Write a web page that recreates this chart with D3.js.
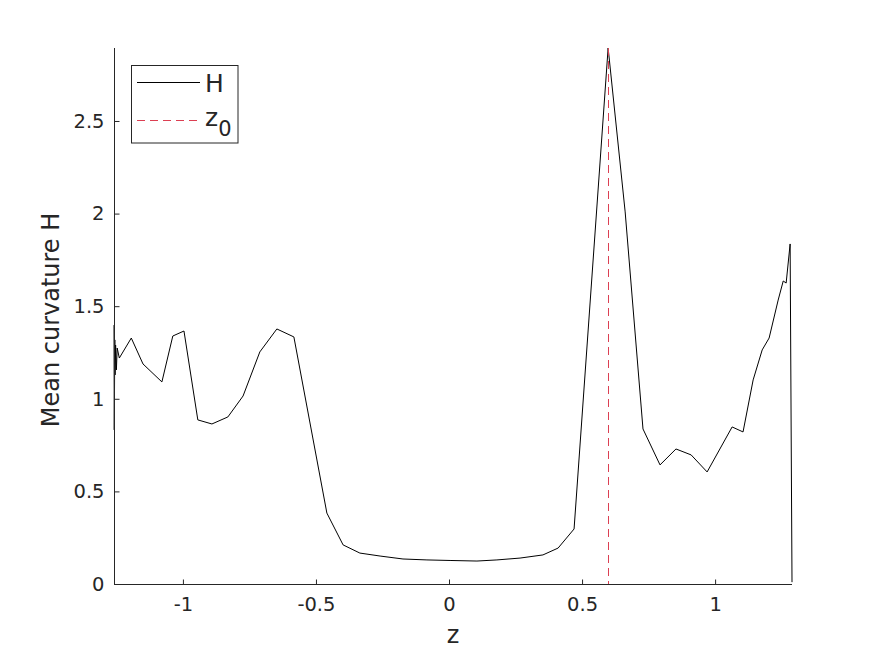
<!DOCTYPE html>
<html>
<head>
<meta charset="utf-8">
<script src="https://cdn.jsdelivr.net/npm/d3@7"></script>
<style>
  html, body { margin: 0; padding: 0; background: #fff; }
  svg { display: block; }
  text { font-family: "DejaVu Sans", sans-serif; fill: #262626; }
</style>
</head>
<body>
<svg id="chart" width="875" height="656"></svg>
<script>
// ---- data ----
const zValues = [
  -1.259, -1.258, -1.256, -1.255, -1.253, -1.250, -1.247, -1.239,
  -1.194, -1.150, -1.079, -1.038, -0.996, -0.944, -0.891, -0.831,
  -0.774, -0.711, -0.647, -0.583, -0.459, -0.398, -0.335, -0.259,
  -0.173, -0.083, 0.004, 0.105, 0.180, 0.267, 0.353, 0.410,
  0.470, 0.598, 0.662, 0.729, 0.793, 0.853, 0.910, 0.970,
  1.064, 1.105, 1.143, 1.177, 1.203, 1.237, 1.256, 1.267,
  1.282, 1.289
];
const hValues = [
  1.398, 0.832, 1.318, 1.129, 1.290, 1.156, 1.274, 1.220,
  1.328, 1.188, 1.091, 1.339, 1.366, 0.886, 0.864, 0.902,
  1.015, 1.253, 1.377, 1.334, 0.383, 0.211, 0.167, 0.151,
  0.135, 0.130, 0.127, 0.124, 0.130, 0.140, 0.157, 0.194,
  0.297, 2.894, 2.009, 0.837, 0.643, 0.729, 0.697, 0.605,
  0.848, 0.821, 1.102, 1.264, 1.328, 1.533, 1.636, 1.625,
  1.836, 0.010
];
const z0 = 0.598;
const xTicks = [-1, -0.5, 0, 0.5, 1];
const yTicks = [0, 0.5, 1, 1.5, 2, 2.5];
const xLabel = "z";
const yLabel = "Mean curvature H";
const legendLabels = ["H", "z", "0"];

// ---- layout ----
const svg = d3.select("#chart");
const L = 114, R = 792, T = 48, B = 584;
const axisColor = "#262626";
const redColor = "#dc3f52";

const x = d3.scaleLinear().domain([d3.min(zValues), d3.max(zValues)]).range([L, R]);
const y = d3.scaleLinear().domain([0, d3.max(hValues)]).range([B, T]);

// data line
const pts = zValues.map((z, i) => [z, hValues[i]]);
svg.append("path")
  .datum(pts)
  .attr("d", d3.line().x(d => x(d[0])).y(d => y(d[1])))
  .attr("fill", "none")
  .attr("stroke", "#000")
  .attr("stroke-width", 1)
  .attr("stroke-linejoin", "miter");

// z0 dashed line
svg.append("line")
  .attr("x1", Math.round(x(z0)) + 0.5).attr("x2", Math.round(x(z0)) + 0.5)
  .attr("y1", y(d3.max(hValues))).attr("y2", B)
  .attr("stroke", redColor)
  .attr("stroke-width", 1)
  .attr("stroke-dasharray", "8,5");

// axes (MATLAB style: ticks inward, box off)
const xAxis = svg.append("g").attr("transform", `translate(0,${B + 0.5})`)
  .call(d3.axisBottom(x).tickValues(xTicks).tickSize(-5).tickPadding(16).tickFormat(d => String(d)));
const yAxis = svg.append("g").attr("transform", `translate(${L + 0.5},0)`)
  .call(d3.axisLeft(y).tickValues(yTicks).tickSize(-5).tickPadding(16).tickFormat(d => String(d)));

[xAxis, yAxis].forEach(g => {
  g.select(".domain").attr("stroke", axisColor).attr("stroke-width", 1);
  g.selectAll(".tick line").attr("stroke", axisColor);
  g.selectAll(".tick text")
    .attr("fill", axisColor)
    .style("font-family", "DejaVu Sans, sans-serif")
    .style("font-size", "19.5px");
});
xAxis.select(".domain").attr("d", `M${L},0H${R}`);
yAxis.select(".domain").attr("d", `M0,${B}V${T}`);
xAxis.selectAll(".tick text").attr("dy", "0.71em").attr("y", 13);
yAxis.selectAll(".tick text").attr("x", -10);

// axis labels
svg.append("text")
  .attr("x", (L + R) / 2).attr("y", 643)
  .attr("text-anchor", "middle")
  .style("font-size", "24px")
  .text(xLabel);
svg.append("text")
  .attr("transform", `translate(59,${(T + B) / 2 + 4}) rotate(-90)`)
  .attr("text-anchor", "middle")
  .style("font-size", "24px")
  .text(yLabel);

// legend
const lg = svg.append("g");
lg.append("rect")
  .attr("x", 131.5).attr("y", 65.5).attr("width", 106.5).attr("height", 77.5)
  .attr("fill", "#fff").attr("stroke", axisColor).attr("stroke-width", 1);
lg.append("line")
  .attr("x1", 137).attr("x2", 200).attr("y1", 82.5).attr("y2", 82.5)
  .attr("stroke", "#000").attr("stroke-width", 1);
lg.append("text")
  .attr("x", 205).attr("y", 92)
  .style("font-size", "25px").attr("fill", "#000")
  .text(legendLabels[0]);
lg.append("line")
  .attr("x1", 137).attr("x2", 200).attr("y1", 120.5).attr("y2", 120.5)
  .attr("stroke", redColor).attr("stroke-width", 1)
  .attr("stroke-dasharray", "8,5");
const zt = lg.append("text")
  .attr("x", 205).attr("y", 126)
  .style("font-size", "25px").attr("fill", "#000");
zt.append("tspan").text(legendLabels[1]);
zt.append("tspan").attr("dy", 10).style("font-size", "21px").text(legendLabels[2]);
</script>
</body>
</html>
